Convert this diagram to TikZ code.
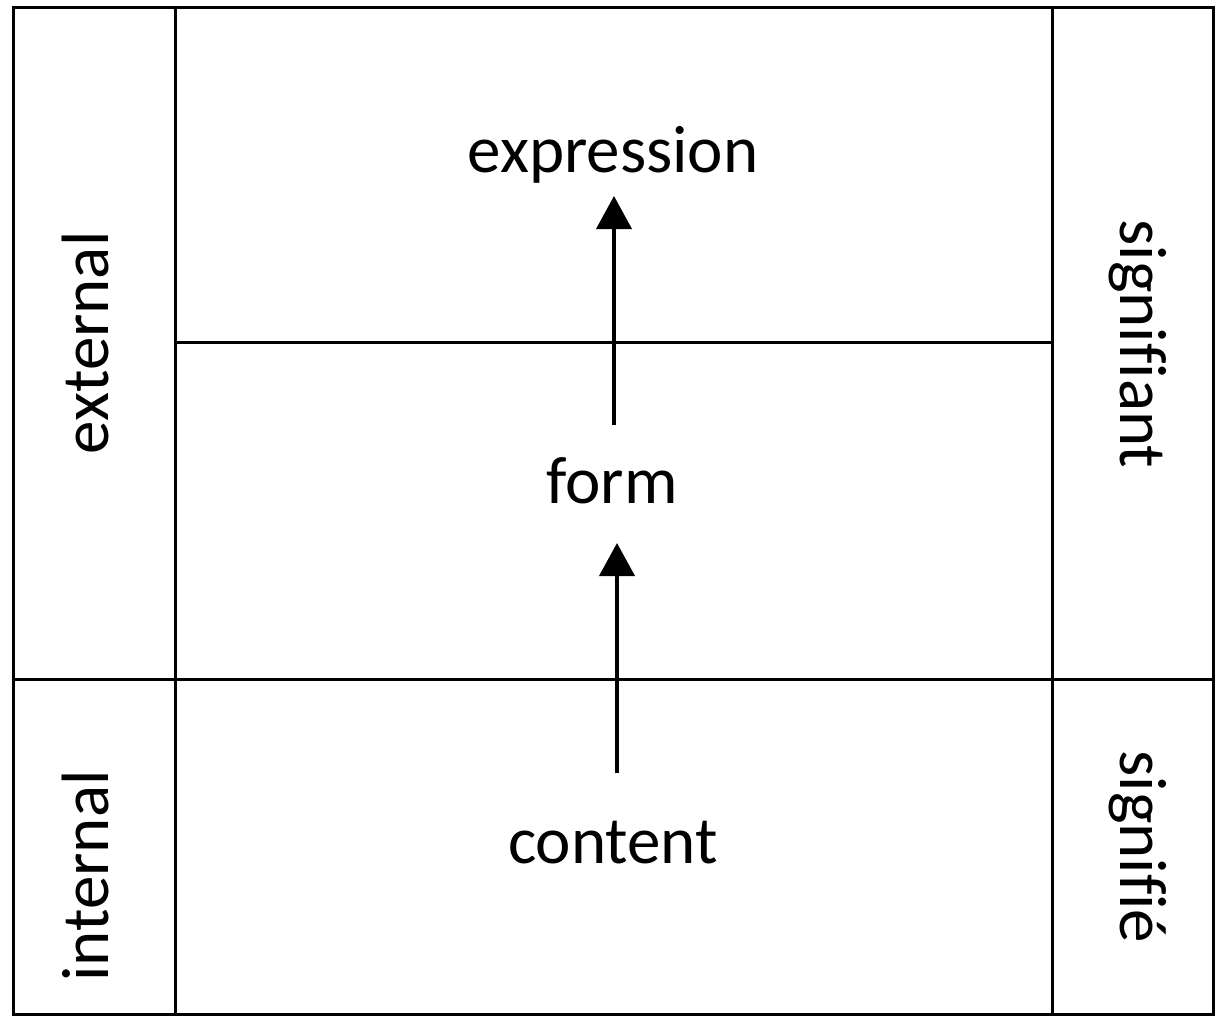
\documentclass[tikz,border=0pt]{standalone}
\usepackage{fontspec}
\setmainfont[Ligatures=NoCommon]{Carlito}
\usetikzlibrary{arrows.meta}
\tikzset{
  grid/.style={line width=3pt, draw=black},
  lbl/.style={font=\fontsize{67}{70}\selectfont, inner sep=0pt, anchor=base},
  uparrow/.style={line width=4pt, -{Triangle[length=33pt,width=35pt]}}
}
\begin{document}
\begin{tikzpicture}[x=1pt,y=-1pt]
\useasboundingbox (0,0) rectangle (1220,1017);
% frame
\draw[grid] (13,7) rectangle (1213,1014);
\draw[grid] (175,7) -- (175,1014);
\draw[grid] (1052,7) -- (1052,1014);
\draw[grid] (13,679) -- (1213,679);
\draw[grid] (175,342) -- (1052,342);
% texts
\node[lbl] (expr) at (613,172) {expression};
\node[lbl] (form) at (612,503) {form};
\node[lbl] (cont) at (613,863) {content};
\node[lbl, rotate=90] (ext) at (108,343) {external};
\node[lbl, rotate=90] (int) at (108,876) {internal};
\node[lbl, rotate=-90] (sfa) at (1120,344) {signifiant};
\node[lbl, rotate=-90] (sfe) at (1120,847) {signifié};
% arrows
\coordinate (a1s) at (614,425);
\coordinate (a1e) at (614,196);
\coordinate (a2s) at (617,773);
\coordinate (a2e) at (617,543);
\draw[uparrow] (a1s) -- (a1e);
\draw[uparrow] (a2s) -- (a2e);
\end{tikzpicture}
\end{document}
